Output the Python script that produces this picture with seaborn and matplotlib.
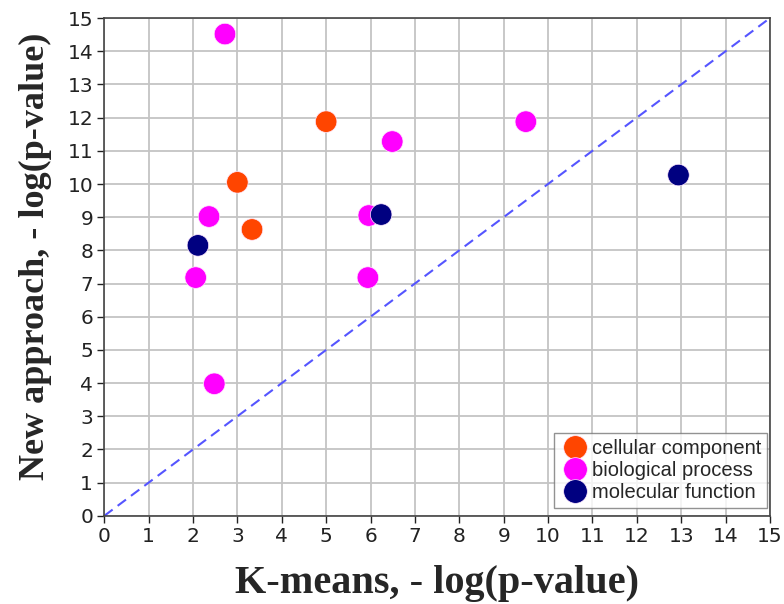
import pandas as pd
import numpy as np
import matplotlib.pyplot as plt
import seaborn as sns

# Values
kmeans = [5.0, 3.0, 3.33,
          2.72, 6.49, 9.5, 2.36, 5.96, 2.06, 5.94, 2.48,
          2.11, 6.24, 12.94]
new_approach = [11.88, 10.05, 8.63,
                14.52, 11.28, 11.88, 9.02, 9.05, 7.18, 7.18, 3.98,
                8.15, 9.08, 10.27]
category = (["cellular component"] * 3
            + ["biological process"] * 8
            + ["molecular function"] * 3)

LABEL_ORDER = ["cellular component", "biological process", "molecular function"]
PALETTE = {
    "cellular component": "#ff4500",
    "biological process": "#ff00ff",
    "molecular function": "#000080",
}

df = pd.DataFrame({"kmeans": kmeans, "new": new_approach, "category": category})

sns.set_theme(style="white")
plt.rcParams['font.family'] = ['DejaVu Sans']

fig, ax = plt.subplots(figsize=(7.84, 6.04), dpi=100)
fig.subplots_adjust(left=0.133, right=0.982, top=0.970, bottom=0.146)

ax.grid(True, color="#c4c4c4", linewidth=1.3, zorder=0)
ax.set_axisbelow(True)

# diagonal reference line
ax.plot([0, 15], [0, 15], linestyle="--", color="#5555ff", linewidth=1.5,
        dashes=(5, 3), zorder=1)

sns.scatterplot(data=df, x="kmeans", y="new", hue="category",
                hue_order=LABEL_ORDER, palette=PALETTE, s=240,
                edgecolor="#ffe8ff", linewidth=0.5, ax=ax, zorder=3)

ax.set_xlim(0, 15)
ax.set_ylim(0, 15)
ax.set_xticks(np.arange(0, 16, 1))
ax.set_yticks(np.arange(0, 16, 1))
ax.tick_params(axis="both", labelsize=14.5, length=5, width=1,
               direction="out", bottom=True, left=True, colors="#222222",
               pad=3)
for sp in ax.spines.values():
    sp.set_color("#444444")
    sp.set_linewidth(1.2)

ax.set_xlabel("K-means, - log(p-value)", fontsize=29, fontweight="bold",
              family="Liberation Serif", labelpad=14)
ax.set_ylabel("New approach, - log(p-value)", fontsize=26, fontweight="bold",
              family="Liberation Serif")
ax.yaxis.set_label_coords(-0.078, 0.522)

leg = ax.legend(loc="lower right", bbox_to_anchor=(0.996, 0.016),
                frameon=True, fancybox=False,
                prop={"family": "Liberation Sans", "size": 14.5},
                handletextpad=0.1, borderpad=0.3, labelspacing=0.14,
                markerscale=1.1, borderaxespad=0.0, handlelength=1.5)
leg.get_frame().set_edgecolor("#777777")
leg.get_frame().set_linewidth(1.0)

plt.savefig("out.png", dpi=100)
